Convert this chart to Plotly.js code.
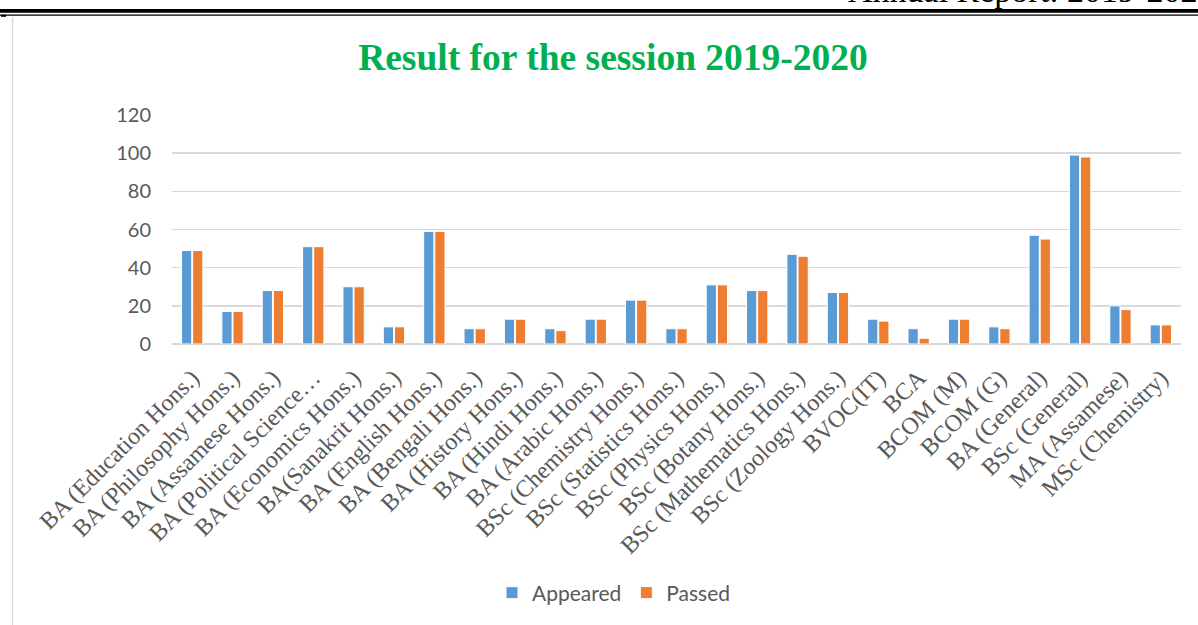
<!DOCTYPE html>
<html>
<head>
<meta charset="utf-8">
<script src="https://cdn.plot.ly/plotly-3.0.1.min.js"></script>
<style>html,body{margin:0;padding:0;background:#fff;}#chart{width:1198px;height:625px;}</style>
</head>
<body>
<div id="chart"></div>
<script>
const categories = [
  "BA (Education Hons.)", "BA (Philosophy Hons.)", "BA (Assamese Hons.)", "BA (Political Science…",
  "BA (Economics Hons.)", "BA(Sanakrit Hons.)", "BA (English Hons.)", "BA (Bengali Hons.)",
  "BA (History Hons.)", "BA (Hindi Hons.)", "BA (Arabic Hons.)", "BSc (Chemistry Hons.)",
  "BSc (Statistics Hons.)", "BSc (Physics Hons.)", "BSc (Botany Hons.)", "BSc (Mathematics Hons.)",
  "BSc (Zoology Hons.)", "BVOC(IT)", "BCA", "BCOM (M)", "BCOM (G)", "BA (General)",
  "BSc (General)", "MA (Assamese)", "MSc (Chemistry)"
];
const appeared = [49, 17, 28, 51, 30, 9, 59, 8, 13, 8, 13, 23, 8, 31, 28, 47, 27, 13, 8, 13, 9, 57, 99, 20, 10];
const passed   = [49, 17, 28, 51, 30, 9, 59, 8, 13, 7, 13, 23, 8, 31, 28, 46, 27, 12, 3, 13, 8, 55, 98, 18, 10];
const yTicks = [0, 20, 40, 60, 80, 100, 120];
const chartTitle = 'Result for the session 2019-2020';
const headerText = 'Annual Report: 2019-2020';

const W = 1198, H = 625;
const M = {l: 172, r: 17, t: 115, b: 281};
const pw = W - M.l - M.r, ph = H - M.t - M.b;
const px = x => (x - M.l) / pw;
const py = y => (H - M.b - y) / ph;

const traces = [
  {type: 'bar', name: 'Appeared', x: categories, y: appeared,
   marker: {color: '#5B9BD5', line: {color: '#ffffff', width: 1}}},
  {type: 'bar', name: 'Passed', x: categories, y: passed,
   marker: {color: '#ED7D31', line: {color: '#ffffff', width: 1}}}
];

const layout = {
  width: W, height: H,
  margin: M,
  paper_bgcolor: '#ffffff', plot_bgcolor: '#ffffff',
  barmode: 'group', bargap: 0.45, bargroupgap: 0.08,
  showlegend: true,
  title: {text: '<b>' + chartTitle + '</b>', x: 613 / W, xref: 'container', xanchor: 'center',
          y: 1 - 57 / H, yref: 'container', yanchor: 'middle',
          font: {family: 'Liberation Serif, Times New Roman, serif', size: 37.5, color: '#00B050'}},
  xaxis: {type: 'category', tickangle: -45, showgrid: false, zeroline: false, showline: false,
          ticks: '', automargin: false, ticklabelstandoff: 14,
          tickfont: {family: 'Liberation Serif, Times New Roman, serif', size: 24, color: '#595959'}},
  yaxis: {range: [0, 120], tickvals: yTicks, ticktext: yTicks.map(String), showgrid: true,
          gridcolor: '#D9D9D9', gridwidth: 1.5, zeroline: true, zerolinecolor: '#D9D9D9', zerolinewidth: 1.5,
          showline: false, ticks: '', ticklen: 0, automargin: false, fixedrange: true, ticklabelstandoff: 20,
          tickfont: {family: 'Lato, Carlito, sans-serif', size: 20, color: '#595959'}},
  legend: {orientation: 'h', x: px(614), xanchor: 'center', y: py(593), yanchor: 'middle',
           font: {family: 'Lato, Carlito, sans-serif', size: 21, color: '#595959'},
           itemwidth: 30, traceorder: 'normal'},
  shapes: [
    {type: 'rect', xref: 'paper', yref: 'paper', x0: px(0), x1: px(W), y0: py(9), y1: py(12.7),
     fillcolor: '#000000', line: {width: 0}, layer: 'above'},
    {type: 'line', xref: 'paper', yref: 'paper', x0: px(0), x1: px(W), y0: py(15.2), y1: py(15.2),
     line: {color: '#000000', width: 1.2}, layer: 'above'},
    {type: 'rect', xref: 'paper', yref: 'paper', x0: px(1), x1: px(6), y0: py(14.8), y1: py(16.8),
     fillcolor: '#000000', line: {width: 0}, layer: 'above'},
    {type: 'line', xref: 'paper', yref: 'paper', x0: px(12.5), x1: px(12.5), y0: py(17), y1: py(H),
     line: {color: '#D9D9D9', width: 1.3}, layer: 'above'}
  ],
  annotations: [
    {xref: 'paper', yref: 'paper', x: px(846), y: py(11), xanchor: 'left', yanchor: 'bottom',
     text: headerText, showarrow: false,
     font: {family: 'Liberation Serif, Times New Roman, serif', size: 34, color: '#000000'}}
  ]
};

Plotly.newPlot('chart', traces, layout, {displayModeBar: false, staticPlot: true});
</script>
</body>
</html>
